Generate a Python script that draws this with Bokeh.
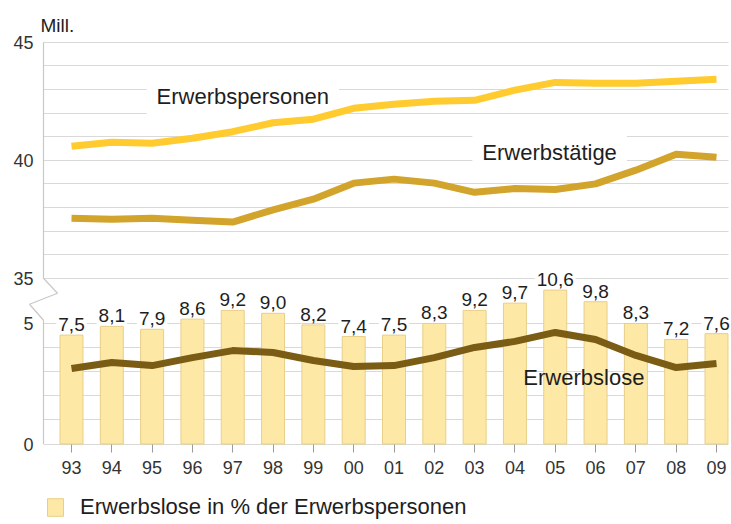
from bokeh.plotting import figure
from bokeh.models import (ColumnDataSource, Range1d, FixedTicker, Legend, LegendItem,
                          Label, Arrow)
from bokeh.core.properties import value
from bokeh.embed import file_html
from bokeh.resources import INLINE

# ---------------- data ----------------
years = ["93", "94", "95", "96", "97", "98", "99", "00", "01", "02",
         "03", "04", "05", "06", "07", "08", "09"]
erwerbspersonen = [40.59, 40.76, 40.72, 40.93, 41.21, 41.59, 41.74, 42.20, 42.37,
                   42.50, 42.54, 42.97, 43.30, 43.26, 43.26, 43.35, 43.43]
erwerbstaetige = [37.54, 37.50, 37.54, 37.46, 37.38, 37.90, 38.35, 39.03, 39.20,
                  39.03, 38.64, 38.80, 38.76, 39.00, 39.58, 40.25, 40.13]
erwerbslose = [3.12, 3.37, 3.24, 3.57, 3.86, 3.78, 3.45, 3.20, 3.24, 3.57,
               3.99, 4.24, 4.61, 4.32, 3.66, 3.16, 3.33]
quote = [7.5, 8.1, 7.9, 8.6, 9.2, 9.0, 8.2, 7.4, 7.5, 8.3, 9.2, 9.7, 10.6,
         9.8, 8.3, 7.2, 7.6]
lower_ticks = [0, 5]
upper_ticks = [35, 40, 45]

# ---------------- broken axis mapping ----------------
Y35 = 6.85       # plot position of the 35 Mill. level
K = 0.975        # scale of the upper segment relative to the lower one
BAR_SCALE = 0.6  # percent -> lower-axis units


def up(v):
    return round(Y35 + (v - 35) * K, 4)


FONT = "Liberation Sans"
TXT = "#1e1e1e"

n = len(years)
xs = list(range(n))
src = ColumnDataSource(dict(
    x=xs,
    ep=[up(v) for v in erwerbspersonen],
    et=[up(v) for v in erwerbstaetige],
    el=erwerbslose,
    bar_top=[q * BAR_SCALE for q in quote],
    bar_label=[f"{q:.1f}".replace(".", ",") for q in quote],
))

W, H = 731, 524
PXX = 40.3125    # px per category step
PX = 24.2        # px per lower unit
X_FIRST = 71     # px of first category
Y_ZERO = 443.5   # px of the zero line
x0 = -X_FIRST / PXX
x1 = (W - X_FIRST) / PXX
AX = (43 - X_FIRST) / PXX          # y axis position (data)
GRID_END = (728 - X_FIRST) / PXX

p = figure(width=W, height=H, output_backend="svg", toolbar_location=None,
           x_range=Range1d(x0, x1),
           y_range=Range1d(-(H - Y_ZERO) / PX, Y_ZERO / PX),
           min_border=0, min_border_left=0, min_border_right=0,
           min_border_top=0, min_border_bottom=0)
p.outline_line_color = None
p.background_fill_color = "white"
p.border_fill_color = "white"

# x axis
p.xaxis.fixed_location = 0
p.xaxis.ticker = FixedTicker(ticks=xs)
p.xaxis.major_label_overrides = {i: y for i, y in enumerate(years)}
p.xaxis.axis_line_color = None
p.xaxis.major_tick_line_color = "#9a9a9a"
p.xaxis.major_tick_out = 8
p.xaxis.major_tick_in = 0
p.xaxis.minor_tick_line_color = None
p.xaxis.major_label_standoff = 9
p.xaxis.major_label_text_font = FONT
p.xaxis.major_label_text_font_size = "18px"
p.xaxis.major_label_text_color = "#333333"
p.xgrid.visible = False

# y axis
p.yaxis.fixed_location = AX
yt = lower_ticks + [up(v) for v in upper_ticks]
p.yaxis.ticker = FixedTicker(ticks=yt)
ov = {v: str(v) for v in lower_ticks}
ov.update({up(v): str(v) for v in upper_ticks})
p.yaxis.major_label_overrides = ov
p.yaxis.axis_line_color = None
p.yaxis.major_tick_line_color = None
p.yaxis.minor_tick_line_color = None
p.yaxis.major_tick_out = 0
p.yaxis.major_tick_in = 0
p.yaxis.major_label_standoff = 10
p.yaxis.major_label_text_font = FONT
p.yaxis.major_label_text_font_size = "18px"
p.yaxis.major_label_text_color = "#333333"

p.ygrid.ticker = FixedTicker(ticks=list(range(0, 6)) + [up(v) for v in range(35, 46)])
p.ygrid.grid_line_color = "#d9d9d9"
p.ygrid.grid_line_width = 1.2
g = p.ygrid[0]
if hasattr(g, "cross_bounds"):
    g.cross_bounds = (AX, GRID_END)

# bars
bars = p.vbar(x="x", top="bar_top", width=0.57, source=src,
              fill_color="#FDE8A6", line_color="#E8CF88", line_width=1)
p.text(x="x", y="bar_top", text="bar_label", source=src, text_align="center",
       text_baseline="bottom", y_offset=-2, text_font=value(FONT),
       text_font_size="19px", text_color=TXT, background_fill_color="white",
       padding=2)

# series labels (white boxes masking the grid)
lab_src = ColumnDataSource(dict(
    x=[4.25, 11.86],
    y=[up(42.72), up(40.31)],
    t=["Erwerbspersonen", "Erwerbstätige"],
))
p.text(x="x", y="y", text="t", source=lab_src, text_align="center",
       text_baseline="middle", text_font=value(FONT), text_font_size="22px",
       text_color=TXT, background_fill_color="white", padding=10)
p.text(x=[12.71], y=[2.73], text=["Erwerbslose"], text_align="center",
       text_baseline="middle", text_font=value(FONT), text_font_size="22px",
       text_color=TXT)

# lines
p.line(x="x", y="ep", source=src, line_width=7, line_color="#FFCB2F", line_join="round")
p.line(x="x", y="et", source=src, line_width=7, line_color="#D3A42B", line_join="round")
p.line(x="x", y="el", source=src, line_width=7, line_color="#7A5C14", line_join="round")

# y axis line with break
dx = 14 / PXX
ya = up(35) - 15 / PX
yb = up(35) - 26 / PX
yc = up(35) - 42 / PX
axs = ColumnDataSource(dict(
    xs=[AX, AX, AX + dx, AX - dx, AX],
    ys=[up(45), up(35), ya, yb, yc],
    xe=[AX, AX + dx, AX - dx, AX, AX],
    ye=[up(35), ya, yb, yc, 0],
))
p.add_layout(Arrow(x_start="xs", y_start="ys", x_end="xe", y_end="ye", source=axs,
                   start=None, end=None, line_color="#c8c8c8", line_width=1.2))

# unit label
p.add_layout(Label(x=AX - 3 / PXX, y=up(45) + 16.3 / PX, text="Mill.",
                   text_font=FONT, text_font_size="19px", text_color=TXT,
                   text_baseline="alphabetic"))

legend = Legend(items=[LegendItem(label="Erwerbslose in % der Erwerbspersonen",
                                  renderers=[bars])],
                location=(45, 4), orientation="horizontal", glyph_width=20,
                glyph_height=22, label_standoff=15, label_text_font=FONT,
                label_text_font_size="22px", label_text_color=TXT, padding=0,
                margin=0, border_line_color=None, background_fill_alpha=0,
                spacing=0, label_height=22)
p.add_layout(legend, "center")

open("out.html", "w").write(file_html(p, INLINE))
